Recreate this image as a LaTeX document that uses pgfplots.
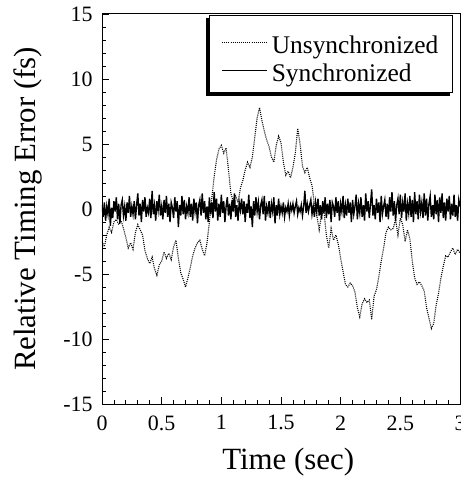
\documentclass[border=0pt]{standalone}
\usepackage{fontspec}
\setmainfont{Liberation Serif}
\usepackage{pgfplots}
\pgfplotsset{compat=1.18}
\usetikzlibrary{calc}
\pgfdeclarelayer{background}
\pgfsetlayers{background,main}

\begin{document}
\begin{tikzpicture}
\begin{axis}[
	scale only axis,
	width=358bp, height=390bp,
	xmin=0, xmax=3,
	ymin=-15, ymax=15,
	xtick={0,0.5,1,1.5,2,2.5,3},
	ytick={-15,-10,-5,0,5,10,15},
	minor x tick num=4, minor y tick num=4,
	tick align=inside, xtick pos=bottom, ytick pos=left,
	major tick length=7bp, minor tick length=4bp,
	axis line style={line width=1pt},
	every tick/.style={black, line width=0.8pt},
	/pgf/number format/assume math mode=true,
	ticklabel style={font=\fontsize{22}{26}\selectfont},
	xticklabel style={yshift=-8bp},
	yticklabel style={xshift=-6bp},
	label style={font=\fontsize{31}{36}\selectfont},
	xlabel={Time (sec)},
	ylabel={Relative Timing Error (fs)},
	xlabel style={at={(axis description cs:0.52,-0.15)}, anchor=center},
	ylabel style={at={(axis description cs:-0.207,0.5)}, anchor=center},
	legend style={name=leg, at={(0.98,0.997)}, anchor=north east,
		draw=black, line width=1pt, fill=white,
		font=\fontsize{25.5}{28}\selectfont,
		inner xsep=12bp, inner ysep=7bp, row sep=5bp,
		cells={anchor=base west}},
	legend image code/.code={\path (0bp,0bp) (47bp,0bp); \draw[#1] (0bp,11bp) -- (45bp,11bp);},
]
% unsynchronized
\addplot[black, line width=1.1pt, dash pattern=on 1bp off 1.1bp] coordinates {
	(0.00,-2.5)(0.02,-2.9)(0.04,-2.0)(0.06,-1.4)(0.08,-1.8)(0.10,-1.0)(0.12,-0.8)(0.14,-1.2)(0.16,-0.9)(0.18,-1.5)
	(0.20,-2.2)(0.22,-3.0)(0.24,-2.6)(0.26,-3.1)(0.28,-1.8)(0.30,-1.2)(0.32,-1.6)(0.34,-2.0)(0.36,-3.2)(0.38,-3.8)
	(0.40,-4.2)(0.42,-3.7)(0.44,-4.6)(0.46,-5.1)(0.48,-4.3)(0.50,-4.0)(0.52,-3.3)(0.54,-3.8)(0.56,-3.4)(0.58,-3.9)
	(0.60,-2.9)(0.62,-2.4)(0.64,-3.8)(0.66,-4.9)(0.68,-5.4)(0.70,-6.0)(0.72,-5.3)(0.74,-4.5)(0.76,-3.6)(0.78,-3.0)
	(0.80,-2.6)(0.82,-2.4)(0.84,-3.1)(0.86,-3.6)(0.88,-2.6)(0.90,-1.0)(0.92,0.8)(0.94,2.5)(0.96,3.8)(0.98,4.6)
	(1.00,4.9)(1.02,4.3)(1.04,4.7)(1.06,3.0)(1.08,1.2)(1.10,0.6)(1.12,1.0)(1.14,0.5)(1.16,1.6)(1.18,2.2)
	(1.20,3.0)(1.22,3.6)(1.24,3.2)(1.26,4.0)(1.28,5.5)(1.30,7.0)(1.32,7.8)(1.34,6.8)(1.36,6.0)(1.38,5.3)
	(1.40,4.8)(1.42,4.0)(1.44,3.6)(1.46,4.9)(1.48,5.6)(1.50,5.1)(1.52,3.6)(1.54,2.6)(1.56,2.9)(1.58,2.4)
	(1.60,3.2)(1.62,4.3)(1.64,6.2)(1.66,5.0)(1.68,3.3)(1.70,2.8)(1.72,3.2)(1.74,2.4)(1.76,1.8)(1.78,0.4)
	(1.80,-0.5)(1.82,-1.6)(1.84,-0.4)(1.86,-0.2)(1.88,-2.0)(1.90,-3.0)(1.92,-1.5)(1.94,-2.4)(1.96,-2.0)(1.98,-2.7)
	(2.00,-3.8)(2.02,-4.8)(2.04,-5.8)(2.06,-6.0)(2.08,-5.7)(2.10,-5.9)(2.12,-6.4)(2.14,-7.6)(2.16,-8.3)(2.18,-7.3)
	(2.20,-6.9)(2.22,-7.2)(2.24,-7.0)(2.26,-8.5)(2.28,-6.7)(2.30,-6.2)(2.32,-5.2)(2.34,-4.0)(2.36,-3.0)(2.38,-1.8)
	(2.40,-1.4)(2.42,-1.6)(2.44,-1.5)(2.46,-0.8)(2.48,-2.0)(2.50,-0.7)(2.52,-1.2)(2.54,-2.5)(2.56,-1.6)(2.58,-2.3)
	(2.60,-4.0)(2.62,-5.3)(2.64,-5.8)(2.66,-5.6)(2.68,-5.9)(2.70,-6.3)(2.72,-7.6)(2.74,-8.4)(2.76,-9.2)(2.78,-8.8)
	(2.80,-7.4)(2.82,-6.5)(2.84,-5.3)(2.86,-4.4)(2.88,-3.6)(2.90,-3.7)(2.92,-3.3)(2.94,-3.0)(2.96,-3.5)(2.98,-3.1)
	(3.00,-3.4)
};
\addlegendentry{\rule{0pt}{29bp}Unsynchronized}
% synchronized
\addplot[black, line width=1.4pt] coordinates {
	(0.00,0.3)(0.01,-0.6)(0.02,0.5)(0.03,-0.9)(0.04,0.2)(0.05,-0.4)(0.06,0.8)(0.07,-1.3)(0.08,0.1)(0.09,-0.7)
	(0.10,0.6)(0.11,-0.2)(0.12,0.9)(0.13,-0.8)(0.14,0.4)(0.15,-1.1)(0.16,0.3)(0.17,0.7)(0.18,-0.5)(0.19,0.2)
	(0.20,-0.9)(0.21,0.5)(0.22,-0.3)(0.23,1.0)(0.24,-0.6)(0.25,0.2)(0.26,-0.4)(0.27,0.6)(0.28,-0.8)(0.29,0.3)
	(0.30,1.2)(0.31,-0.5)(0.32,0.4)(0.33,-1.0)(0.34,0.7)(0.35,-0.2)(0.36,0.9)(0.37,-0.6)(0.38,0.1)(0.39,-0.3)
	(0.40,0.8)(0.41,-0.7)(0.42,1.4)(0.43,-0.4)(0.44,0.3)(0.45,-0.9)(0.46,0.6)(0.47,-0.1)(0.48,1.1)(0.49,-0.5)
	(0.50,0.2)(0.51,-0.8)(0.52,0.7)(0.53,-0.3)(0.54,1.0)(0.55,-0.6)(0.56,0.4)(0.57,-1.0)(0.58,0.5)(0.59,0.1)
	(0.60,-0.7)(0.61,0.9)(0.62,-0.2)(0.63,0.6)(0.64,-1.4)(0.65,0.3)(0.66,-0.5)(0.67,1.0)(0.68,-0.4)(0.69,0.7)
	(0.70,-0.8)(0.71,0.2)(0.72,-0.3)(0.73,0.9)(0.74,-0.6)(0.75,0.4)(0.76,-0.9)(0.77,0.8)(0.78,-0.2)(0.79,0.5)
	(0.80,-1.1)(0.81,0.3)(0.82,0.7)(0.83,-0.5)(0.84,1.2)(0.85,-0.3)(0.86,0.6)(0.87,-0.8)(0.88,0.2)(0.89,-1.0)
	(0.90,0.9)(0.91,-0.4)(0.92,0.5)(0.93,-0.7)(0.94,1.3)(0.95,-0.2)(0.96,0.8)(0.97,-0.9)(0.98,0.4)(0.99,-0.6)
	(1.00,1.1)(1.01,-0.3)(1.02,0.6)(1.03,-1.0)(1.04,0.2)(1.05,0.9)(1.06,-0.5)(1.07,0.4)(1.08,-0.8)(1.09,0.7)
	(1.10,-0.2)(1.11,1.2)(1.12,-0.6)(1.13,0.3)(1.14,-0.9)(1.15,0.5)(1.16,-0.1)(1.17,0.8)(1.18,-0.4)(1.19,0.6)
	(1.20,-1.0)(1.21,0.4)(1.22,-0.3)(1.23,1.1)(1.24,-0.7)(1.25,0.2)(1.26,-1.4)(1.27,0.6)(1.28,-0.5)(1.29,0.9)
	(1.30,-0.2)(1.31,0.5)(1.32,-0.8)(1.33,0.3)(1.34,0.7)(1.35,-0.4)(1.36,1.0)(1.37,-0.9)(1.38,0.2)(1.39,-0.3)
	(1.40,0.6)(1.41,-0.7)(1.42,0.4)(1.43,-0.2)(1.44,0.9)(1.45,-1.1)(1.46,0.3)(1.47,-0.5)(1.48,0.8)(1.49,-0.4)
	(1.50,0.2)(1.51,-0.3)(1.52,0.5)(1.53,-0.6)(1.54,0.1)(1.55,-0.2)(1.56,0.4)(1.57,-0.5)(1.58,0.3)(1.59,-0.1)
	(1.60,0.4)(1.61,-0.3)(1.62,0.2)(1.63,0.6)(1.64,-0.4)(1.65,0.1)(1.66,-0.2)(1.67,0.3)(1.68,-0.5)(1.69,0.2)
	(1.70,1.4)(1.71,-0.3)(1.72,0.4)(1.73,-0.2)(1.74,0.3)(1.75,0.7)(1.76,-0.4)(1.77,0.2)(1.78,-0.6)(1.79,0.5)
	(1.80,-0.2)(1.81,0.8)(1.82,-0.5)(1.83,0.3)(1.84,-0.8)(1.85,0.6)(1.86,-0.3)(1.87,0.9)(1.88,-0.7)(1.89,0.4)
	(1.90,-0.4)(1.91,0.7)(1.92,-1.0)(1.93,0.5)(1.94,0.2)(1.95,-0.6)(1.96,0.9)(1.97,-0.3)(1.98,0.6)(1.99,-0.9)
	(2.00,0.4)(2.01,-0.2)(2.02,1.0)(2.03,-0.7)(2.04,0.3)(2.05,-0.5)(2.06,0.8)(2.07,-0.3)(2.08,0.5)(2.09,-1.0)
	(2.10,0.7)(2.11,-0.4)(2.12,0.2)(2.13,1.1)(2.14,-0.8)(2.15,0.4)(2.16,-0.3)(2.17,0.9)(2.18,-0.6)(2.19,0.3)
	(2.20,-0.9)(2.21,1.2)(2.22,-0.2)(2.23,0.6)(2.24,-0.7)(2.25,0.4)(2.26,1.5)(2.27,-0.5)(2.28,0.3)(2.29,-0.8)
	(2.30,0.8)(2.31,-0.3)(2.32,0.5)(2.33,-1.0)(2.34,1.0)(2.35,-0.4)(2.36,0.2)(2.37,0.7)(2.38,-0.6)(2.39,0.4)
	(2.40,-0.8)(2.41,0.9)(2.42,-0.2)(2.43,1.3)(2.44,-0.5)(2.45,0.6)(2.46,-0.9)(2.47,0.3)(2.48,0.8)(2.49,-0.4)
	(2.50,1.1)(2.51,-0.7)(2.52,0.5)(2.53,-0.2)(2.54,1.2)(2.55,-0.9)(2.56,0.4)(2.57,-0.3)(2.58,1.0)(2.59,-0.6)
	(2.60,0.7)(2.61,-1.0)(2.62,1.3)(2.63,-0.4)(2.64,0.6)(2.65,-0.8)(2.66,1.1)(2.67,-0.2)(2.68,0.5)(2.69,-0.7)
	(2.70,1.2)(2.71,-0.5)(2.72,0.8)(2.73,-0.9)(2.74,0.4)(2.75,1.0)(2.76,-0.6)(2.77,0.3)(2.78,-0.8)(2.79,1.1)
	(2.80,-0.4)(2.81,0.7)(2.82,-1.0)(2.83,0.9)(2.84,-0.3)(2.85,1.2)(2.86,-0.7)(2.87,0.5)(2.88,-0.9)(2.89,0.8)
	(2.90,-0.2)(2.91,1.0)(2.92,-0.8)(2.93,0.4)(2.94,-0.5)(2.95,1.1)(2.96,-0.6)(2.97,0.3)(2.98,-0.9)(2.99,0.7)
	(3.00,0.2)
};
\addlegendentry{Synchronized}
\end{axis}
% legend shadow, offset down and to the left
\begin{pgfonlayer}{background}
	\fill[black] ($(leg.south west)+(-3bp,-3bp)$) rectangle ($(leg.north east)+(-3bp,-3bp)$);
\end{pgfonlayer}
\pgfresetboundingbox
\path[use as bounding box] (-102bp,-79bp) rectangle (359bp,404bp);
\end{tikzpicture}
\end{document}
